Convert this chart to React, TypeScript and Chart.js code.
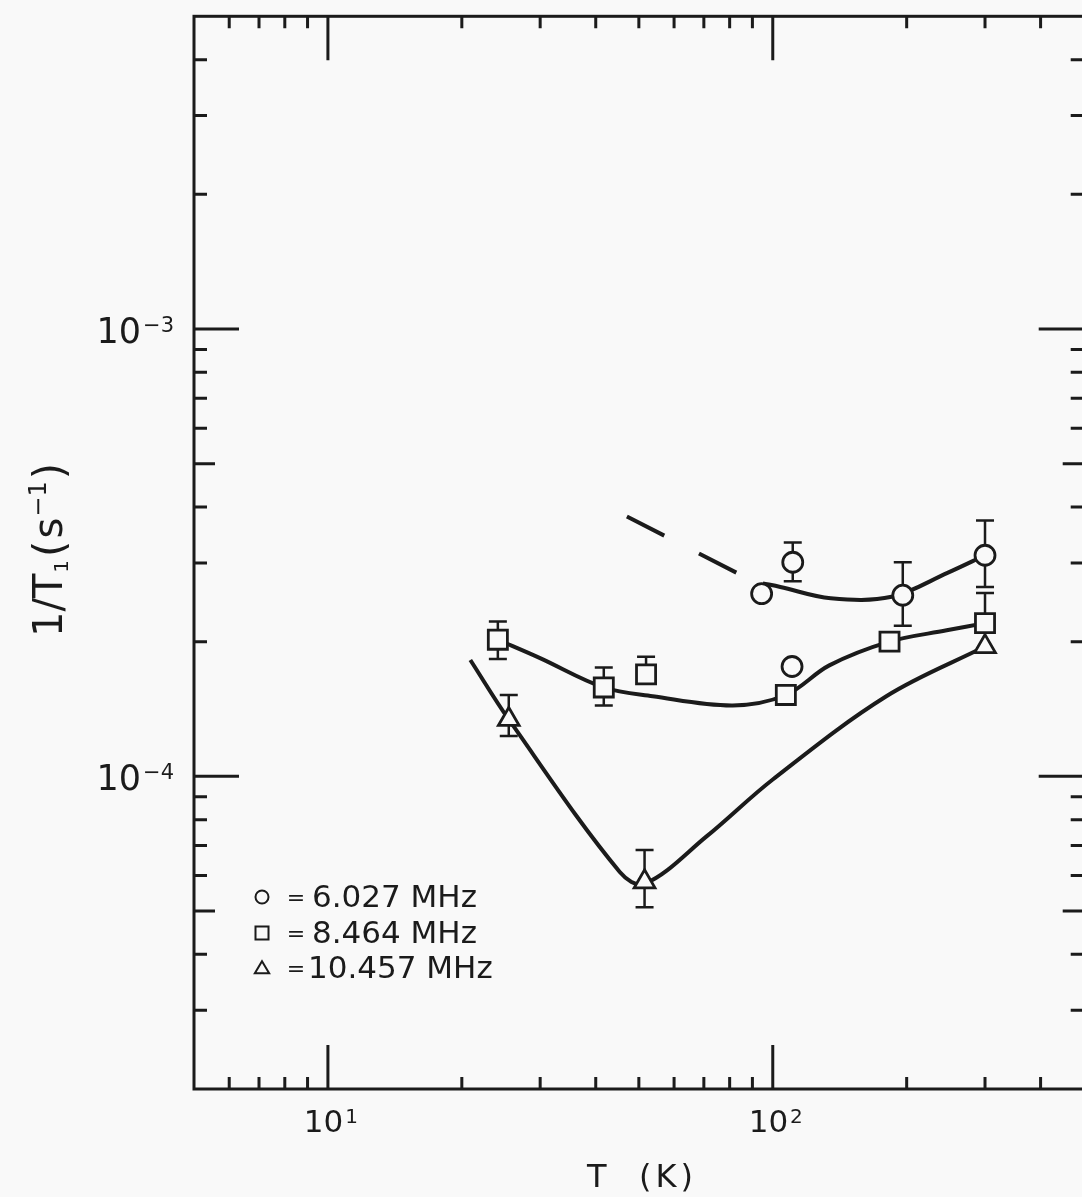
import React, { useEffect, useRef } from 'react';
import { Chart, registerables } from 'chart.js';

Chart.register(...registerables);

const W = 1100;
const H = 1197;
const INK = '#1b1b1b';
const PAPER = '#f9f9f9';
const FONT = '"DejaVu Sans", sans-serif';

// ---- data: 6.027 MHz (circles) ----
const circleT = [94.4, 110.9, 110.5, 196, 300];
const circleRate = [2.56e-4, 3.01e-4, 1.76e-4, 2.54e-4, 3.12e-4];
const circleErrHi = [null, 3.33e-4, null, 3.01e-4, 3.73e-4];
const circleErrLo = [null, 2.73e-4, null, 2.17e-4, 2.65e-4];

// ---- data: 8.464 MHz (squares) ----
const squareT = [24.1, 41.7, 51.9, 107, 183, 300];
const squareRate = [2.02e-4, 1.58e-4, 1.69e-4, 1.52e-4, 2.0e-4, 2.2e-4];
const squareErrHi = [2.22e-4, 1.75e-4, 1.85e-4, null, null, 2.57e-4];
const squareErrLo = [1.83e-4, 1.44e-4, null, null, null, null];

// ---- data: 10.457 MHz (triangles) ----
const triangleT = [25.5, 51.5, 300];
const triangleRate = [1.34e-4, 5.81e-5, 1.95e-4];
const triangleErrHi = [1.52e-4, 6.84e-5, null];
const triangleErrLo = [1.23e-4, 5.1e-5, null];

// ---- hand-drawn curves ----
const circleFitT = [95, 104, 135, 185, 247, 300];
const circleFitRate = [2.7e-4, 2.65e-4, 2.5e-4, 2.52e-4, 2.85e-4, 3.12e-4];
const dashT = [47.0, 83.0];
const dashRate = [3.81e-4, 2.85e-4];
const squareFitT = [24.1, 29.9, 41.7, 53.7, 81.3, 107, 134, 183, 246, 300];
const squareFitRate = [2.02e-4, 1.84e-4, 1.58e-4, 1.51e-4, 1.44e-4, 1.52e-4, 1.77e-4, 2.0e-4, 2.12e-4, 2.2e-4];
const triangleFitT = [20.9, 25.5, 45.3, 51.5, 71.1, 100, 180, 300];
const triangleFitRate = [1.82e-4, 1.34e-4, 6.11e-5, 5.75e-5, 7.35e-5, 9.84e-5, 1.51e-4, 1.95e-4];

// ---- axes ----
const xRange = [5, 500];
const yRange = [2e-5, 5e-3];
const xMinorTicks = [6, 7, 8, 9, 20, 30, 40, 50, 60, 70, 80, 90, 200, 300, 400];
const xMajorTicks = [10, 100];
const xTickExponents = ['1', '2'];
const yMinorTicks = [3e-5, 4e-5, 6e-5, 7e-5, 8e-5, 9e-5, 2e-4, 3e-4, 4e-4, 6e-4, 7e-4, 8e-4, 9e-4, 2e-3, 3e-3, 4e-3];
const yMidTicks = [5e-5, 5e-4];
const yMajorTicks = [1e-4, 1e-3];
const yTickExponents = ['\u22124', '\u22123'];
const legendLabels = ['6.027 MHz', '8.464 MHz', '10.457 MHz'];
const legendShapes = ['circle', 'rect', 'triangle'];

const pts = (xs: number[], ys: number[]) => xs.map((x, i) => ({ x, y: ys[i] }));

const errorSets = [
  { t: circleT, v: circleRate, hi: circleErrHi, lo: circleErrLo },
  { t: squareT, v: squareRate, hi: squareErrHi, lo: squareErrLo },
  { t: triangleT, v: triangleRate, hi: triangleErrHi, lo: triangleErrLo },
];

function drawShape(ctx: CanvasRenderingContext2D, shape: string, x: number, y: number, s: number) {
  ctx.beginPath();
  if (shape === 'circle') {
    ctx.arc(x, y, s, 0, Math.PI * 2);
  } else if (shape === 'rect') {
    ctx.rect(x - s, y - s, 2 * s, 2 * s);
  } else {
    ctx.moveTo(x, y - s * 1.05);
    ctx.lineTo(x + s * 1.1, y + s * 0.8);
    ctx.lineTo(x - s * 1.1, y + s * 0.8);
    ctx.closePath();
  }
  ctx.fillStyle = PAPER;
  ctx.fill();
  ctx.stroke();
}

const paperPlugin = {
  id: 'paper',
  beforeDraw(chart: any) {
    const ctx = chart.ctx;
    ctx.save();
    ctx.fillStyle = PAPER;
    ctx.fillRect(0, 0, chart.width, chart.height);
    ctx.restore();
  },
  beforeDatasetsDraw(chart: any) {
    const ctx = chart.ctx;
    const xs = chart.scales.x;
    const ys = chart.scales.y;
    ctx.save();
    ctx.strokeStyle = INK;
    ctx.lineWidth = 2.5;
    errorSets.forEach((set) => {
      set.t.forEach((t, i) => {
        const px = xs.getPixelForValue(t);
        const pv = ys.getPixelForValue(set.v[i]);
        [set.hi[i], set.lo[i]].forEach((e) => {
          if (e == null) return;
          const pe = ys.getPixelForValue(e);
          ctx.beginPath();
          ctx.moveTo(px, pv);
          ctx.lineTo(px, pe);
          ctx.moveTo(px - 9, pe);
          ctx.lineTo(px + 9, pe);
          ctx.stroke();
        });
      });
    });
    ctx.restore();
  },
  afterDatasetsDraw(chart: any) {
    const ctx: CanvasRenderingContext2D = chart.ctx;
    const xs = chart.scales.x;
    const ys = chart.scales.y;
    const { left, right, top, bottom } = chart.chartArea;
    ctx.save();
    ctx.strokeStyle = INK;
    ctx.fillStyle = INK;
    ctx.lineWidth = 3;
    ctx.strokeRect(left, top, right - left, bottom - top);

    const xTick = (v: number, len: number) => {
      const p = xs.getPixelForValue(v);
      ctx.beginPath();
      ctx.moveTo(p, bottom);
      ctx.lineTo(p, bottom - len);
      ctx.moveTo(p, top);
      ctx.lineTo(p, top + len);
      ctx.stroke();
    };
    const yTick = (v: number, len: number) => {
      const p = ys.getPixelForValue(v);
      ctx.beginPath();
      ctx.moveTo(left, p);
      ctx.lineTo(left + len, p);
      ctx.moveTo(right, p);
      ctx.lineTo(right - len, p);
      ctx.stroke();
    };
    xMinorTicks.forEach((v) => xTick(v, 12));
    xMajorTicks.forEach((v) => xTick(v, 44));
    yMinorTicks.forEach((v) => yTick(v, 13));
    yMidTicks.forEach((v) => yTick(v, 21));
    yMajorTicks.forEach((v) => yTick(v, 45));

    // x tick labels
    ctx.textAlign = 'left';
    ctx.textBaseline = 'alphabetic';
    xMajorTicks.forEach((v, i) => {
      const p = xs.getPixelForValue(v);
      ctx.font = `31px ${FONT}`;
      const wb = ctx.measureText('10').width;
      ctx.font = `20px ${FONT}`;
      const we = ctx.measureText(xTickExponents[i]).width;
      const x0 = p - (wb + we + 2) / 2 + 3;
      ctx.font = `31px ${FONT}`;
      ctx.fillText('10', x0, bottom + 43);
      ctx.font = `20px ${FONT}`;
      ctx.fillText(xTickExponents[i], x0 + wb + 2, bottom + 34);
    });

    // y tick labels
    yMajorTicks.forEach((v, i) => {
      const p = ys.getPixelForValue(v);
      ctx.font = `21px ${FONT}`;
      const we = ctx.measureText(yTickExponents[i]).width;
      ctx.font = `35px ${FONT}`;
      const wb = ctx.measureText('10').width;
      const xr = left - 20;
      ctx.fillText('10', xr - we - 2 - wb, p + 14);
      ctx.font = `21px ${FONT}`;
      ctx.fillText(yTickExponents[i], xr - we, p + 3);
    });

    // x title
    ctx.font = `32px ${FONT}`;
    (ctx as any).letterSpacing = '4px';
    ctx.textAlign = 'center';
    ctx.fillText('T  (K)', 642, 1187);
    (ctx as any).letterSpacing = '0px';

    // y title (rotated)
    ctx.save();
    ctx.translate(62, 637);
    ctx.rotate(-Math.PI / 2);
    ctx.textAlign = 'left';
    const runs = [
      { t: '1/T', s: 40, dy: 0, gap: 1 },
      { t: '1', s: 20, dy: 6, gap: 3 },
      { t: '(', s: 42, dy: 2, gap: 2 },
      { t: 's', s: 40, dy: 0, gap: 1 },
      { t: '\u22121', s: 24, dy: -16, gap: 2 },
      { t: ')', s: 42, dy: 2, gap: 0 },
    ];
    let cx = 0;
    runs.forEach((r) => {
      ctx.font = `${r.s}px ${FONT}`;
      ctx.fillText(r.t, cx, r.dy);
      cx += ctx.measureText(r.t).width + r.gap;
    });
    ctx.restore();

    // legend
    const rowsY = [907, 943, 978];
    ctx.lineWidth = 2;
    legendLabels.forEach((lab, i) => {
      const by = rowsY[i];
      drawShape(ctx, legendShapes[i], 262, by - 10, 6.5);
      ctx.fillStyle = INK;
      ctx.font = `22px ${FONT}`;
      ctx.textAlign = 'center';
      ctx.fillText('=', 296, by - 2);
      ctx.textAlign = 'left';
      ctx.font = `31px ${FONT}`;
      ctx.fillText(lab, i === 2 ? 308 : 312, by);
    });
    ctx.restore();
  },
};

export default function App() {
  const ref = useRef<HTMLCanvasElement>(null);
  useEffect(() => {
    document.body.style.margin = '0';
    document.body.style.background = PAPER;
    const markerBase = {
      showLine: false,
      pointBorderColor: INK,
      pointBackgroundColor: PAPER,
      pointBorderWidth: 2.8,
    };
    const lineBase = {
      showLine: true,
      pointRadius: 0,
      borderColor: INK,
      borderWidth: 4,
      fill: false,
      tension: 0.35,
    };
    const chart = new Chart(ref.current!, {
      type: 'scatter',
      data: {
        datasets: [
          { label: '6.027 MHz', data: pts(circleT, circleRate), pointStyle: 'circle', pointRadius: 10, ...markerBase },
          { label: '8.464 MHz', data: pts(squareT, squareRate), pointStyle: 'rect', pointRadius: 13.5, ...markerBase },
          { label: '10.457 MHz', data: pts(triangleT, triangleRate), pointStyle: 'triangle', pointRadius: 12, ...markerBase },
          { label: 'fit 6.027', data: pts(circleFitT, circleFitRate), ...lineBase },
          { label: 'extrapolation', data: pts(dashT, dashRate), ...lineBase, borderWidth: 4, borderDash: [42, 39], tension: 0 },
          { label: 'fit 8.464', data: pts(squareFitT, squareFitRate), ...lineBase },
          { label: 'fit 10.457', data: pts(triangleFitT, triangleFitRate), ...lineBase },
        ] as any,
      },
      options: {
        animation: false,
        responsive: false,
        events: [],
        layout: { padding: { left: 194, top: 14, right: W - 1084, bottom: H - 1089 } },
        plugins: { legend: { display: false }, tooltip: { enabled: false } },
        scales: {
          x: {
            type: 'logarithmic',
            min: xRange[0],
            max: xRange[1],
            grid: { display: false },
            border: { display: false },
            ticks: { display: false },
            afterFit: (s: any) => { s.height = 0; },
          },
          y: {
            type: 'logarithmic',
            min: yRange[0],
            max: yRange[1],
            grid: { display: false },
            border: { display: false },
            ticks: { display: false },
            afterFit: (s: any) => { s.width = 0; },
          },
        },
      },
      plugins: [paperPlugin],
    });
    return () => chart.destroy();
  }, []);
  return (
    <div style={{ position: 'fixed', left: 0, top: 0, width: 1082, height: 1197, overflow: 'hidden', background: PAPER }}>
      <canvas ref={ref} width={W} height={H} style={{ width: W, height: H, display: 'block' }} />
    </div>
  );
}
